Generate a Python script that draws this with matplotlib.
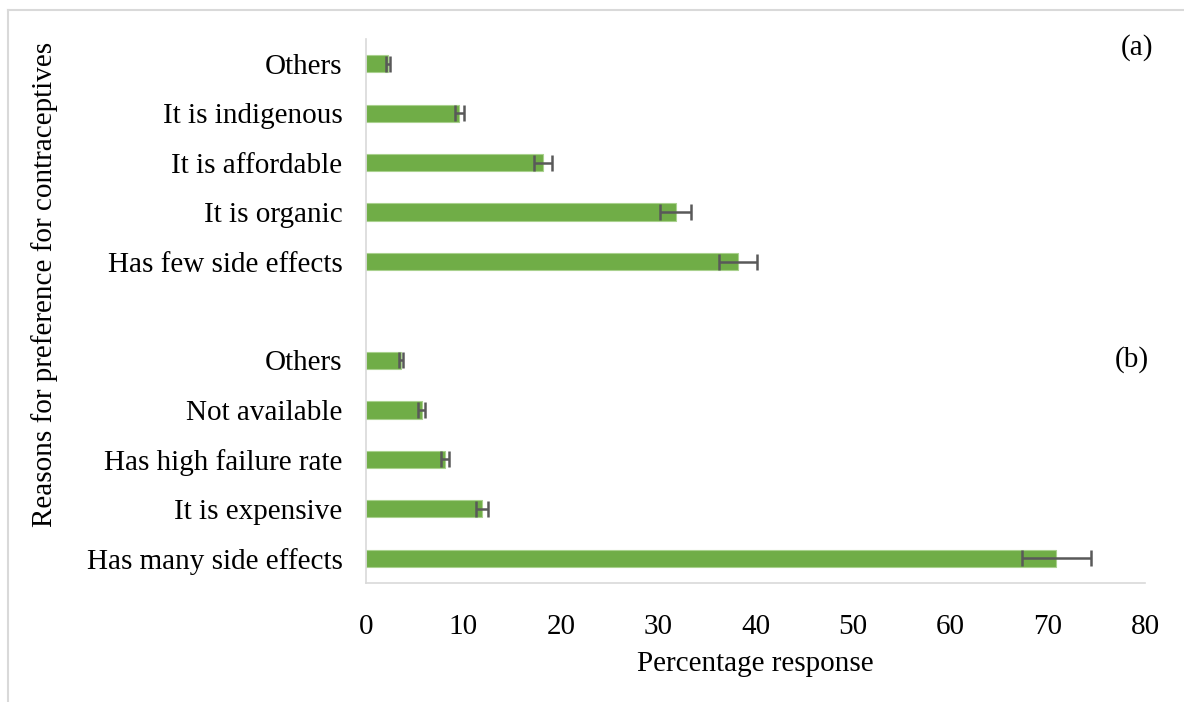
import matplotlib
matplotlib.use("Agg")
import matplotlib.pyplot as plt
from matplotlib.lines import Line2D

plt.rcParams['font.family'] = ['Liberation Serif', 'DejaVu Serif']

labels_a = ["Others", "It is indigenous", "It is affordable", "It is organic", "Has few side effects"]
values_a = [2.3, 9.6, 18.2, 31.8, 38.2]
errors_a = [0.2, 0.5, 0.95, 1.6, 1.95]

labels_b = ["Others", "Not available", "Has high failure rate", "It is expensive", "Has many side effects"]
values_b = [3.6, 5.7, 8.1, 11.9, 70.9]
errors_b = [0.25, 0.35, 0.4, 0.6, 3.55]

xticks = [0, 10, 20, 30, 40, 50, 60, 70, 80]

labels = labels_a + [""] + labels_b
values = values_a + [None] + values_b
errors = errors_a + [None] + errors_b

FS = 21

fig = plt.figure(figsize=(11.84, 7.02), dpi=100)
ax = fig.add_axes([366/1184, 1 - 583/702, (1145-366)/1184, (583-39)/702])

pos = [i for i, v in enumerate(values) if v is not None]
vals = [values[i] for i in pos]
errs = [errors[i] for i in pos]
ax.barh(pos, vals, height=0.35, color="#70AD47", edgecolor="#A9D18E", linewidth=0.8, zorder=2)
ax.errorbar(vals, pos, xerr=errs, fmt="none", ecolor="#595959", elinewidth=1.8,
            capsize=5.5, capthick=1.8, zorder=3)

ax.set_ylim(10.5, -0.5)
ax.set_xlim(0, 80)
ax.set_yticks(range(len(labels)))
ax.set_yticklabels(labels, fontsize=FS)
ax.set_xticks(xticks)
ax.set_xticklabels([str(t) for t in xticks], fontsize=FS)
ax.tick_params(axis="x", length=0, pad=22)
ax.tick_params(axis="y", length=0, pad=17)
for s in ["top", "right"]:
    ax.spines[s].set_visible(False)
for s in ["left", "bottom"]:
    ax.spines[s].set_color("#D9D9D9")
    ax.spines[s].set_linewidth(1.2)

ax.set_xlabel("Percentage response", fontsize=FS, labelpad=8)
fig.text(45/1184, 1 - 284/702, "Reasons for preference for contraceptives", rotation=90,
         fontsize=FS, ha="center", va="center")

fig.text(1137/1184, 1 - 48/702, "(a)", fontsize=FS, ha="center", va="center")
fig.text(1132/1184, 1 - 360/702, "(b)", fontsize=FS, ha="center", va="center")

# outer frame (cropped)
fig.add_artist(Line2D([8/1184, 1], [1 - 9.5/702, 1 - 9.5/702], transform=fig.transFigure,
                      color="#D9D9D9", linewidth=1.5))
fig.add_artist(Line2D([8/1184, 8/1184], [0, 1 - 9.5/702], transform=fig.transFigure,
                      color="#D9D9D9", linewidth=1.5))

fig.savefig("out.png", dpi=100, facecolor="white")
